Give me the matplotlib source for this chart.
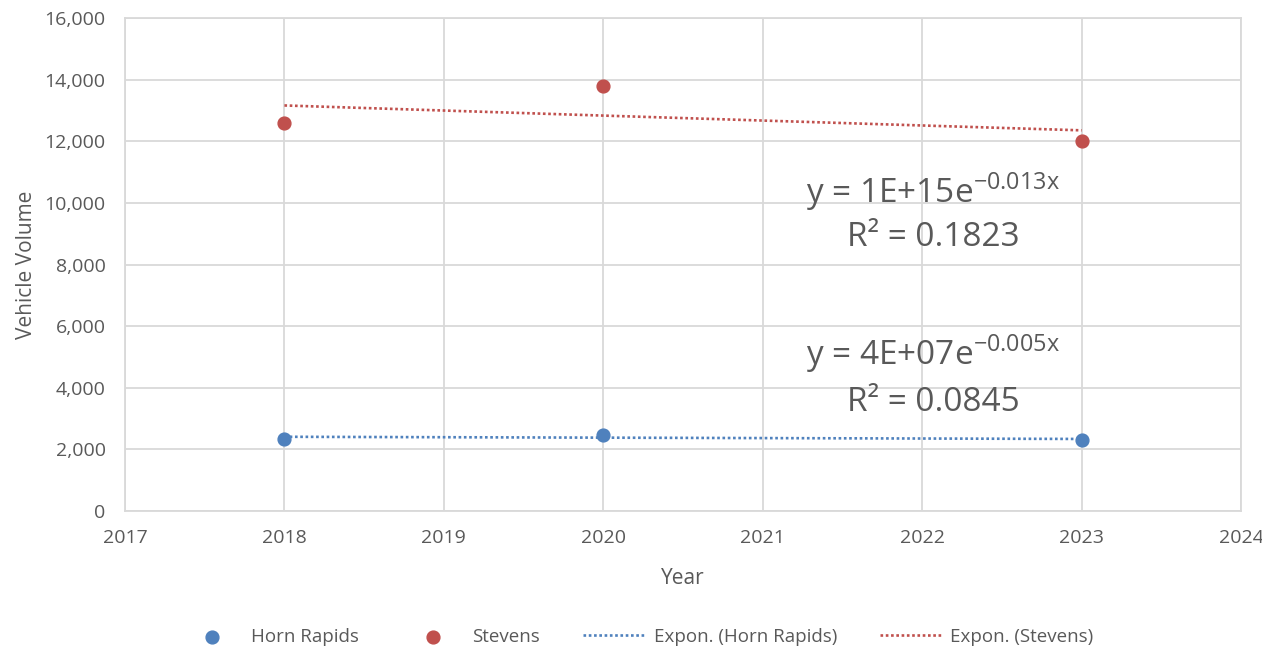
import numpy as np
import matplotlib.pyplot as plt
from matplotlib.ticker import FuncFormatter

plt.rcParams['font.family'] = ['Open Sans', 'DejaVu Sans']

years = [2018, 2020, 2023]
horn_rapids = [2350, 2480, 2300]
stevens = [12600, 13800, 12000]

horn_eq = [r"y = 4E+07e$^{\mathregular{-0.005x}}$", "R² = 0.0845"]
stevens_eq = [r"y = 1E+15e$^{\mathregular{-0.013x}}$", "R² = 0.1823"]

blue = "#4F81BD"
red = "#C0504D"
grey = "#595959"


def expon_fit(x, y):
    # same as Excel's exponential trendline: ln(y) = ln(a) + b*x
    b, ln_a = np.polyfit(x, np.log(y), 1)
    xs = np.linspace(min(x), max(x), 200)
    return xs, np.exp(ln_a + b * xs)


fig = plt.figure(figsize=(12.62, 6.53), dpi=100)
ax = fig.add_axes([125 / 1262, 1 - 511 / 653, (1241 - 125) / 1262, (511 - 18) / 653])

ax.scatter(years, horn_rapids, s=85, color=blue, zorder=3, label="Horn Rapids")
ax.scatter(years, stevens, s=85, color=red, zorder=3, label="Stevens")

xs, ys = expon_fit(years, horn_rapids)
ax.plot(xs, ys, color=blue, lw=1.9, ls=(0, (1, 1)), label="Expon. (Horn Rapids)")
xs, ys = expon_fit(years, stevens)
ax.plot(xs, ys, color=red, lw=1.9, ls=(0, (1, 1)), label="Expon. (Stevens)")

ax.set_xlim(2017, 2024)
ax.set_ylim(0, 16000)
ax.set_xticks(range(2017, 2025))
ax.set_yticks(range(0, 16001, 2000))
ax.yaxis.set_major_formatter(FuncFormatter(lambda v, p: f"{int(v):,}"))
ax.grid(True, color="#d9d9d9", lw=1.3)
ax.set_axisbelow(True)
for s in ax.spines.values():
    s.set_color("#d9d9d9")
    s.set_linewidth(1.3)
ax.tick_params(length=0, labelsize=14, colors=grey)
ax.tick_params(axis="x", pad=13)
ax.tick_params(axis="y", pad=14)

ax.set_xlabel("Year", fontsize=15, color=grey, labelpad=15)
ax.set_ylabel("Vehicle Volume", fontsize=15, color=grey, labelpad=5)

eq_x = 2022.07
ax.text(eq_x, 10000, stevens_eq[0], fontsize=24, color=grey, ha="center", va="baseline")
ax.text(eq_x, 8600, stevens_eq[1], fontsize=24, color=grey, ha="center", va="baseline")
ax.text(eq_x, 4740, horn_eq[0], fontsize=24, color=grey, ha="center", va="baseline")
ax.text(eq_x, 3250, horn_eq[1], fontsize=24, color=grey, ha="center", va="baseline")

fig.legend(loc="center", bbox_to_anchor=(0.505, 0.025), ncol=4, frameon=False,
           fontsize=13.5, labelcolor=grey, handlelength=3.3, handletextpad=0.45,
           columnspacing=2.3, scatterpoints=1)

fig.savefig("out.png", dpi=100)
